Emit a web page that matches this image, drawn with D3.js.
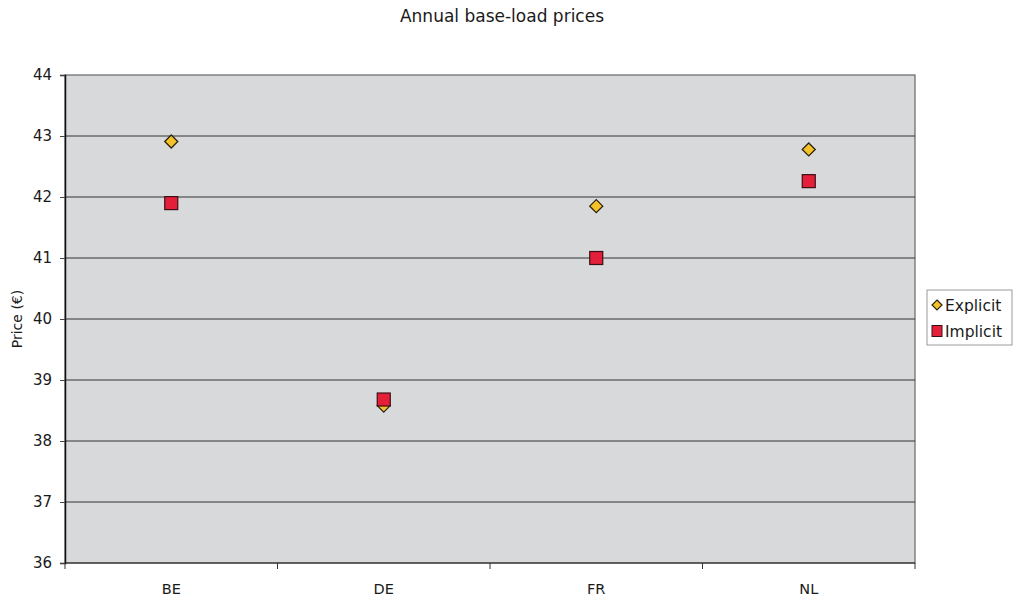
<!DOCTYPE html>
<html>
<head>
<meta charset="utf-8">
<script src="https://cdn.jsdelivr.net/npm/d3@7"></script>
<style>
  html, body { margin: 0; padding: 0; background: #ffffff; }
  svg { display: block; font-family: "DejaVu Sans", Verdana, sans-serif; }
</style>
</head>
<body>
<svg id="chart" width="1014" height="601"></svg>
<script>
// Annual base-load prices by market area (EUR/MWh)
const categories = ["BE", "DE", "FR", "NL"];
const explicitPrices = [42.91, 38.58, 41.85, 42.78];
const implicitPrices = [41.90, 38.68, 41.00, 42.26];
const yTicks = [36, 37, 38, 39, 40, 41, 42, 43, 44];
const seriesNames = ["Explicit", "Implicit"];

const svg = d3.select("#chart");
const margin = { left: 65, right: 99, top: 75, bottom: 38 };
const W = 1014, H = 601;
const plotW = W - margin.left - margin.right;
const plotH = H - margin.top - margin.bottom;
const textColor = "#1a1a1a";

const x = d3.scaleBand().domain(categories).range([0, plotW]);
const y = d3.scaleLinear().domain([36, 44]).range([plotH, 0]);

const g = svg.append("g").attr("transform", `translate(${margin.left},${margin.top})`);

// plot background
g.append("rect")
  .attr("width", plotW).attr("height", plotH)
  .attr("fill", "#d8d9db")
  .attr("stroke", "#666").attr("stroke-width", 1.2);

// horizontal gridlines
g.append("g").selectAll("line")
  .data(yTicks.slice(1, -1))
  .join("line")
  .attr("x1", 0).attr("x2", plotW)
  .attr("y1", d => y(d)).attr("y2", d => y(d))
  .attr("stroke", "#333").attr("stroke-width", 1);

// y axis
const yAxis = g.append("g")
  .call(d3.axisLeft(y).tickValues(yTicks).tickSize(5).tickPadding(8).tickFormat(d3.format("d")));
yAxis.select(".domain").attr("stroke", "#111").attr("stroke-width", 1.5);
yAxis.selectAll(".tick line").attr("stroke", "#444");
yAxis.selectAll(".tick text").attr("font-size", 15).attr("fill", textColor)
  .attr("font-family", "'DejaVu Sans', sans-serif");

// x axis with ticks between categories
const xAxis = g.append("g").attr("transform", `translate(0,${plotH})`);
xAxis.append("line").attr("x1", 0).attr("x2", plotW).attr("stroke", "#222").attr("stroke-width", 1.2);
xAxis.selectAll("line.sep")
  .data(d3.range(categories.length + 1))
  .join("line").attr("class", "sep")
  .attr("x1", i => i * x.step()).attr("x2", i => i * x.step())
  .attr("y1", 0).attr("y2", 6)
  .attr("stroke", "#333");
xAxis.selectAll("text")
  .data(categories)
  .join("text")
  .attr("x", d => x(d) + x.bandwidth() / 2)
  .attr("y", 31)
  .attr("text-anchor", "middle")
  .attr("font-size", 14.5).attr("fill", textColor)
  .text(d => d);

// markers
const diamond = s => `M0,${-s}L${s},0L0,${s}L${-s},0Z`;
const cx = d => x(d) + x.bandwidth() / 2;

g.append("g").selectAll("path")
  .data(categories.map((c, i) => ({ c, v: explicitPrices[i] })))
  .join("path")
  .attr("d", diamond(6.5))
  .attr("transform", d => `translate(${cx(d.c)},${y(d.v)})`)
  .attr("fill", "#f6c22a").attr("stroke", "#2a2410").attr("stroke-width", 1.3);

g.append("g").selectAll("rect")
  .data(categories.map((c, i) => ({ c, v: implicitPrices[i] })))
  .join("rect")
  .attr("x", d => cx(d.c) - 6.5).attr("y", d => y(d.v) - 6.5)
  .attr("width", 13).attr("height", 13)
  .attr("fill", "#e41f3a").attr("stroke", "#3a1014").attr("stroke-width", 1.2);

// title
svg.append("text")
  .attr("x", 502).attr("y", 22)
  .attr("text-anchor", "middle")
  .attr("font-size", 17).attr("fill", textColor)
  .text("Annual base-load prices");

// y axis title
svg.append("text")
  .attr("transform", `translate(22,${margin.top + plotH / 2}) rotate(-90)`)
  .attr("text-anchor", "middle")
  .attr("font-size", 14).attr("fill", textColor)
  .text("Price (€)");

// legend
const lg = svg.append("g").attr("transform", "translate(927,290)");
lg.append("rect").attr("width", 85).attr("height", 55)
  .attr("fill", "#ffffff").attr("stroke", "#9a9a9a").attr("stroke-width", 1);
seriesNames.forEach((name, i) => {
  const row = lg.append("g").attr("transform", `translate(10,${15 + i * 26})`);
  if (i === 0) {
    row.append("path").attr("d", diamond(5))
      .attr("fill", "#f6c22a").attr("stroke", "#2a2410").attr("stroke-width", 1.2);
  } else {
    row.append("rect").attr("x", -5).attr("y", -5.5).attr("width", 10).attr("height", 11)
      .attr("fill", "#e41f3a").attr("stroke", "#3a1014").attr("stroke-width", 1);
  }
  row.append("text").attr("x", 8).attr("y", 5.5)
    .attr("font-size", 15.5).attr("fill", textColor)
    .text(name);
});
</script>
</body>
</html>
